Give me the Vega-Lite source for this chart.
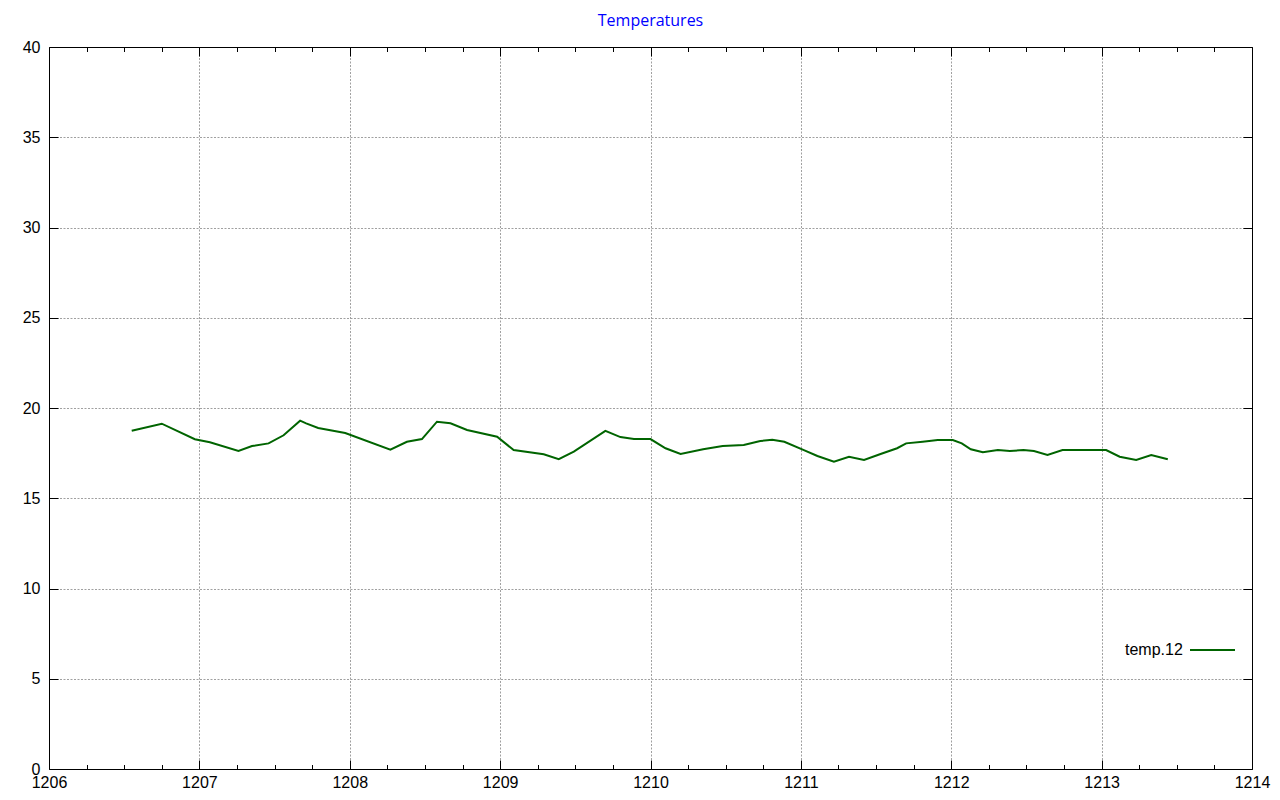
{
  "$schema": "https://vega.github.io/schema/vega-lite/v6.json",
  "width": 1203,
  "height": 722,
  "autosize": {"type": "none"},
  "padding": {"left": 49, "top": 47, "right": 28, "bottom": 31},
  "background": "white",
  "title": {"text": "Temperatures", "color": "#0000ff", "font": "Open Sans", "fontSize": 16, "fontWeight": "normal", "anchor": "middle", "offset": 10},
  "data": {"values": [
    {"x": 1206.55, "t": 18.74}, {"x": 1206.75, "t": 19.13}, {"x": 1206.97, "t": 18.27}, {"x": 1207.07, "t": 18.10},
    {"x": 1207.26, "t": 17.62}, {"x": 1207.35, "t": 17.89}, {"x": 1207.46, "t": 18.04}, {"x": 1207.56, "t": 18.49},
    {"x": 1207.67, "t": 19.30}, {"x": 1207.71, "t": 19.15}, {"x": 1207.79, "t": 18.89}, {"x": 1207.97, "t": 18.61},
    {"x": 1208.27, "t": 17.69}, {"x": 1208.38, "t": 18.13}, {"x": 1208.48, "t": 18.28}, {"x": 1208.58, "t": 19.24},
    {"x": 1208.67, "t": 19.15}, {"x": 1208.78, "t": 18.78}, {"x": 1208.98, "t": 18.41}, {"x": 1209.09, "t": 17.67},
    {"x": 1209.29, "t": 17.44}, {"x": 1209.39, "t": 17.17}, {"x": 1209.49, "t": 17.58}, {"x": 1209.70, "t": 18.73},
    {"x": 1209.80, "t": 18.39}, {"x": 1209.89, "t": 18.28}, {"x": 1210.00, "t": 18.28}, {"x": 1210.10, "t": 17.77},
    {"x": 1210.20, "t": 17.45}, {"x": 1210.35, "t": 17.71}, {"x": 1210.48, "t": 17.89}, {"x": 1210.62, "t": 17.95},
    {"x": 1210.73, "t": 18.17}, {"x": 1210.81, "t": 18.24}, {"x": 1210.89, "t": 18.13}, {"x": 1211.02, "t": 17.67},
    {"x": 1211.11, "t": 17.34}, {"x": 1211.22, "t": 17.02}, {"x": 1211.32, "t": 17.30}, {"x": 1211.42, "t": 17.12},
    {"x": 1211.53, "t": 17.45}, {"x": 1211.64, "t": 17.77}, {"x": 1211.70, "t": 18.04}, {"x": 1211.81, "t": 18.13},
    {"x": 1211.91, "t": 18.23}, {"x": 1212.01, "t": 18.23}, {"x": 1212.07, "t": 18.04}, {"x": 1212.13, "t": 17.71},
    {"x": 1212.21, "t": 17.55}, {"x": 1212.31, "t": 17.67}, {"x": 1212.39, "t": 17.62}, {"x": 1212.48, "t": 17.67},
    {"x": 1212.55, "t": 17.62}, {"x": 1212.64, "t": 17.40}, {"x": 1212.74, "t": 17.67}, {"x": 1212.84, "t": 17.67},
    {"x": 1212.94, "t": 17.67}, {"x": 1213.03, "t": 17.67}, {"x": 1213.12, "t": 17.30}, {"x": 1213.23, "t": 17.12},
    {"x": 1213.33, "t": 17.40}, {"x": 1213.44, "t": 17.16}
  ]},
  "resolve": {"axis": {"x": "independent", "y": "independent"}},
  "layer": [
    {
      "mark": {"type": "line", "strokeWidth": 2},
      "encoding": {
        "x": {
          "field": "x", "type": "quantitative",
          "scale": {"domain": [1206, 1214], "nice": false, "zero": false},
          "axis": {
            "orient": "bottom", "title": null,
            "values": [1206, 1206.25, 1206.5, 1206.75, 1207, 1207.25, 1207.5, 1207.75, 1208, 1208.25, 1208.5, 1208.75, 1209, 1209.25, 1209.5, 1209.75, 1210, 1210.25, 1210.5, 1210.75, 1211, 1211.25, 1211.5, 1211.75, 1212, 1212.25, 1212.5, 1212.75, 1213, 1213.25, 1213.5, 1213.75, 1214],
            "labelExpr": "datum.value % 1 === 0 ? format(datum.value, 'd') : ''",
            "labelOverlap": false, "labelFlush": false,
            "labelFont": "Liberation Sans", "labelFontSize": 16, "labelColor": "#000000",
            "labelPadding": 14,
            "tickSize": {"condition": {"test": "datum.value % 1 === 0", "value": -9}, "value": -4.5},
            "tickColor": "#000000", "tickWidth": 1,
            "domain": true, "domainColor": "#000000", "domainWidth": 1,
            "grid": true, "gridColor": "#a0a0a0", "gridWidth": 1, "gridDash": [2, 1.5],
            "gridOpacity": {"condition": {"test": "datum.value % 1 === 0 && datum.value > 1206 && datum.value < 1214", "value": 1}, "value": 0}
          }
        },
        "y": {
          "field": "t", "type": "quantitative",
          "scale": {"domain": [0, 40], "nice": false, "zero": false},
          "axis": {
            "orient": "left", "title": null,
            "values": [0, 5, 10, 15, 20, 25, 30, 35, 40],
            "labelOverlap": false, "labelFlush": false,
            "labelFont": "Liberation Sans", "labelFontSize": 16, "labelColor": "#000000",
            "labelPadding": 18,
            "tickSize": -9, "tickColor": "#000000", "tickWidth": 1,
            "domain": true, "domainColor": "#000000", "domainWidth": 1,
            "grid": true, "gridColor": "#a0a0a0", "gridWidth": 1, "gridDash": [2, 1.5],
            "gridOpacity": {"condition": {"test": "datum.value > 0 && datum.value < 40", "value": 1}, "value": 0}
          }
        },
        "color": {
          "datum": "temp.12", "type": "nominal",
          "scale": {"range": ["#006400"]},
          "legend": {
            "orient": "none", "legendX": 1132, "legendY": 571.5,
            "title": null, "symbolType": "stroke", "symbolSize": 2025, "symbolStrokeWidth": 2,
            "symbolOffset": 0, "labelOffset": -111, "labelAlign": "left",
            "labelFont": "Liberation Sans", "labelFontSize": 16, "labelColor": "#000000", "labelLimit": 200,
            "fillColor": "white", "padding": 8
          }
        }
      }
    },
    {
      "mark": {"type": "line", "opacity": 0},
      "encoding": {
        "x": {
          "field": "x", "type": "quantitative",
          "scale": {"domain": [1206, 1214], "nice": false, "zero": false},
          "axis": {
            "orient": "top", "title": null, "labels": false, "grid": false,
            "values": [1206, 1206.25, 1206.5, 1206.75, 1207, 1207.25, 1207.5, 1207.75, 1208, 1208.25, 1208.5, 1208.75, 1209, 1209.25, 1209.5, 1209.75, 1210, 1210.25, 1210.5, 1210.75, 1211, 1211.25, 1211.5, 1211.75, 1212, 1212.25, 1212.5, 1212.75, 1213, 1213.25, 1213.5, 1213.75, 1214],
            "tickSize": {"condition": {"test": "datum.value % 1 === 0", "value": -9}, "value": -4.5},
            "tickColor": "#000000", "tickWidth": 1,
            "domain": true, "domainColor": "#000000", "domainWidth": 1
          }
        },
        "y": {
          "field": "t", "type": "quantitative",
          "scale": {"domain": [0, 40], "nice": false, "zero": false},
          "axis": {
            "orient": "right", "title": null, "labels": false, "grid": false,
            "values": [0, 5, 10, 15, 20, 25, 30, 35, 40],
            "tickSize": -9, "tickColor": "#000000", "tickWidth": 1,
            "domain": true, "domainColor": "#000000", "domainWidth": 1
          }
        }
      }
    }
  ],
  "config": {"view": {"stroke": null}}
}
